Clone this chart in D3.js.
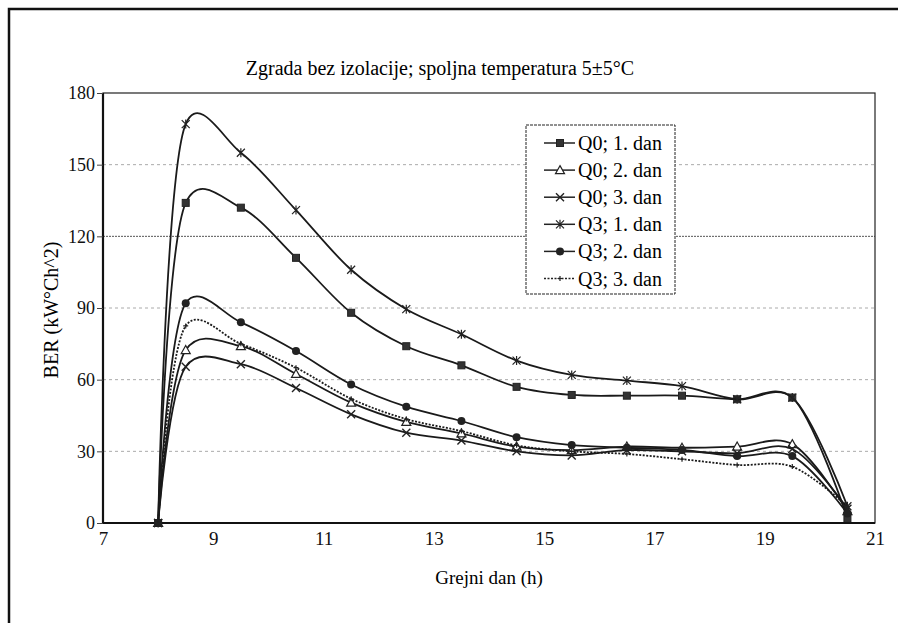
<script src="https://d3js.org/d3.v7.min.js"></script>
<style>
body { margin: 0; background: #fff; }
svg { display: block; }
.serif { font-family: 'Liberation Serif', 'Times New Roman', Times, serif; }
</style>
<svg width="898" height="623"></svg>
<script>
const hours = [8, 8.5, 9.5, 10.5, 11.5, 12.5, 13.5, 14.5, 15.5, 16.5, 17.5, 18.5, 19.5, 20.5];

const q0d1 = [0, 134, 132, 111, 88, 74, 66, 57, 53.6, 53.3, 53.3, 51.8, 52.5, 2];
const q0d2 = [0, 72.4, 74, 62.4, 50.4, 42.3, 37.5, 32, 30.5, 32, 31.5, 32, 33, 5];
const q0d3 = [0, 65.4, 66.5, 56.5, 45.5, 37.8, 34.5, 30, 28.3, 30.5, 30, 29.2, 31, 6];
const q3d1 = [0, 167, 155, 131, 106, 89.5, 79, 68, 62, 59.6, 57.3, 51.8, 52.5, 7];
const q3d2 = [0, 92, 84, 72, 58, 48.7, 42.7, 35.9, 32.6, 31.5, 30.6, 28, 28, 4];
const q3d3 = [0, 82.5, 75, 65, 52, 43.5, 38.5, 32.5, 30, 28.9, 26.7, 24.3, 23.6, 7];

const seriesNames = ['Q0; 1. dan', 'Q0; 2. dan', 'Q0; 3. dan', 'Q3; 1. dan', 'Q3; 2. dan', 'Q3; 3. dan'];
const seriesValues = [q0d1, q0d2, q0d3, q3d1, q3d2, q3d3];
const markers = ['square', 'triangle', 'cross', 'star', 'circle', 'plus'];

const xTicks = [7, 9, 11, 13, 15, 17, 19, 21];
const yTicks = [0, 30, 60, 90, 120, 150, 180];

const svg = d3.select('svg');
const plotLeft = 103, plotRight = 875, plotTop = 93, plotBottom = 523;

const x = d3.scaleLinear().domain([7, 21]).range([plotLeft, plotRight]);
const y = d3.scaleLinear().domain([0, 180]).range([plotBottom, plotTop]);

// outer frame
svg.append('path')
  .attr('d', 'M9,623 V9 H898')
  .attr('fill', 'none').attr('stroke', '#111').attr('stroke-width', 2.5);

// gridlines
svg.append('g').selectAll('line')
  .data(yTicks.filter(d => d > 0 && d < 180))
  .join('line')
  .attr('x1', plotLeft).attr('x2', plotRight)
  .attr('y1', d => y(d)).attr('y2', d => y(d))
  .attr('stroke', d => d === 120 ? '#555' : '#aaa')
  .attr('stroke-width', 1)
  .attr('stroke-dasharray', d => d === 120 ? '2,1' : '3,3');

// plot border
svg.append('rect')
  .attr('x', plotLeft).attr('y', plotTop)
  .attr('width', plotRight - plotLeft).attr('height', plotBottom - plotTop)
  .attr('fill', 'none').attr('stroke', '#222').attr('stroke-width', 1.2);

svg.append('path')
  .attr('d', `M${plotLeft},${plotTop} V${plotBottom} H${plotRight}`)
  .attr('fill', 'none').attr('stroke', '#111').attr('stroke-width', 2.2);

// axes
const yAxis = svg.append('g')
  .attr('transform', `translate(${plotLeft},0)`)
  .call(d3.axisLeft(y).tickValues(yTicks).tickSize(6).tickPadding(2));
yAxis.select('.domain').remove();
yAxis.selectAll('line').attr('stroke', '#444');

const xAxis = svg.append('g')
  .attr('transform', `translate(0,${plotBottom})`)
  .call(d3.axisBottom(x).tickValues(xTicks).tickSize(0).tickPadding(9));
xAxis.select('.domain').remove();

svg.selectAll('g').attr('font-family', null);
yAxis.selectAll('.tick text').attr('font-size', 18);
xAxis.selectAll('.tick text').attr('font-size', 19);
svg.selectAll('.tick text')
  .attr('class', 'serif')
  .attr('fill', '#111');

// titles
svg.append('text')
  .attr('class', 'serif')
  .attr('x', 440).attr('y', 75)
  .attr('text-anchor', 'middle')
  .attr('font-size', 20)
  .text('Zgrada bez izolacije; spoljna temperatura 5±5°C');

svg.append('text')
  .attr('class', 'serif')
  .attr('x', 489).attr('y', 584)
  .attr('text-anchor', 'middle')
  .attr('font-size', 19)
  .text('Grejni dan (h)');

svg.append('text')
  .attr('class', 'serif')
  .attr('transform', 'translate(58,310) rotate(-90)')
  .attr('text-anchor', 'middle')
  .attr('font-size', 20)
  .text('BER (kW°Ch^2)');

// marker drawing
const drawMarker = (g, type) => {
  const s = '#222';
  if (type === 'square') {
    g.append('rect').attr('x', -3.5).attr('y', -3.5).attr('width', 7).attr('height', 7)
      .attr('fill', '#333').attr('stroke', s);
  } else if (type === 'triangle') {
    g.append('path').attr('d', 'M0,-4.5 L4.5,3.5 L-4.5,3.5 Z')
      .attr('fill', '#fff').attr('stroke', s).attr('stroke-width', 1.2);
  } else if (type === 'cross') {
    g.append('path').attr('d', 'M-4,-4 L4,4 M-4,4 L4,-4')
      .attr('stroke', s).attr('stroke-width', 1.4);
  } else if (type === 'star') {
    g.append('path').attr('d', 'M-4,-4 L4,4 M-4,4 L4,-4 M0,-4.5 V4.5')
      .attr('stroke', s).attr('stroke-width', 1.2);
  } else if (type === 'circle') {
    g.append('circle').attr('r', 4).attr('fill', '#222');
  } else {
    g.append('path').attr('d', 'M-2.5,0 H2.5 M0,-2.5 V2.5')
      .attr('stroke', s).attr('stroke-width', 1.2);
  }
};

const line = d3.line()
  .x((d, i) => x(hours[i]))
  .y(d => y(d))
  .curve(d3.curveCatmullRom.alpha(0.2));

seriesValues.forEach((vals, k) => {
  svg.append('path')
    .datum(vals)
    .attr('d', line)
    .attr('fill', 'none')
    .attr('stroke', '#1a1a1a')
    .attr('stroke-width', 1.8)
    .attr('stroke-dasharray', k === 5 ? '2,1.5' : null);

  svg.append('g').selectAll('g')
    .data(vals)
    .join('g')
    .attr('transform', (d, i) => `translate(${x(hours[i])},${y(d)})`)
    .each(function () { drawMarker(d3.select(this), markers[k]); });
});

// legend
const legend = svg.append('g');
legend.append('rect')
  .attr('x', 526).attr('y', 125).attr('width', 149).attr('height', 169)
  .attr('fill', '#fff').attr('stroke', '#222').attr('stroke-width', 1)
  .attr('stroke-dasharray', '3,1');

seriesNames.forEach((name, k) => {
  const ly = 143 + k * 27.1;
  legend.append('line')
    .attr('x1', 544).attr('x2', 575).attr('y1', ly).attr('y2', ly)
    .attr('stroke', '#222').attr('stroke-width', 1.5)
    .attr('stroke-dasharray', k === 5 ? '2,1.5' : null);
  drawMarker(legend.append('g').attr('transform', `translate(560,${ly})`), markers[k]);
  legend.append('text')
    .attr('class', 'serif')
    .attr('x', 578).attr('y', ly + 7)
    .attr('font-size', 20)
    .text(name);
});
</script>
